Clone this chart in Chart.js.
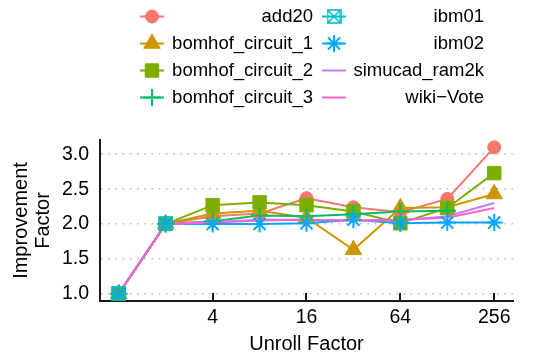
<!DOCTYPE html>
<html>
<head>
<meta charset="utf-8">
<script src="https://cdn.jsdelivr.net/npm/chart.js@4"></script>
<style>
  body { margin: 0; background: #fff; }
  canvas { display: block; }
</style>
</head>
<body>
<canvas id="chart" width="560" height="356"></canvas>
<script>
// unroll factor on x, improvement factor on y
const unrollFactors = [1, 2, 4, 8, 16, 32, 64, 128, 256];
const xTicks = [4, 16, 64, 256];
const yTicks = [1.0, 1.5, 2.0, 2.5, 3.0];

const add20 = [1.00, 2.00, 2.11, 2.15, 2.37, 2.24, 2.17, 2.36, 3.10];
const bomhof1 = [1.00, 2.00, 2.15, 2.19, 2.09, 1.63, 2.23, 2.24, 2.43];
const bomhof2 = [1.00, 2.00, 2.27, 2.31, 2.27, 2.18, 2.01, 2.23, 2.73];
const bomhof3 = [1.00, 2.00, 2.04, 2.12, 2.11, 2.14, 2.18, 2.19, null];
const ibm01 = [1.00, 2.00, null, null, null, null, null, null, null];
const ibm02 = [1.00, 2.00, 2.00, 2.00, 2.01, 2.06, 2.01, 2.02, 2.02];
const simucad = [1.00, 2.00, 2.03, 2.06, 2.06, 2.05, 2.05, 2.11, 2.30];
const wikiVote = [1.00, 2.00, 2.02, 2.05, 2.06, 2.05, 2.06, 2.09, 2.23];

const names = ["add20", "bomhof_circuit_1", "bomhof_circuit_2", "bomhof_circuit_3",
  "ibm01", "ibm02", "simucad_ram2k", "wiki\u2212Vote"];
const values = [add20, bomhof1, bomhof2, bomhof3, ibm01, ibm02, simucad, wikiVote];
const colors = ["#F8766D", "#CD9600", "#7CAE00", "#00BE67", "#00BFC4", "#00A9FF", "#C77CFF", "#FF61CC"];

// boxed x marker (ggplot shape 7)
function boxX(color) {
  const c = document.createElement("canvas");
  c.width = 15; c.height = 15;
  const g = c.getContext("2d");
  g.strokeStyle = color;
  g.lineWidth = 1.6;
  g.strokeRect(1, 1, 13, 13);
  g.beginPath();
  g.moveTo(1, 1); g.lineTo(14, 14);
  g.moveTo(14, 1); g.lineTo(1, 14);
  g.stroke();
  return c;
}

const markers = [
  { style: "circle", r: 6.5, w: 1 },
  { style: "triangle", r: 9.5, w: 1 },
  { style: "rect", r: 9.5, w: 1 },
  { style: "cross", r: 8.5, w: 2 },
  { style: boxX(colors[4]), r: 7, w: 1 },
  { style: "star", r: 8.5, w: 2 },
  null,
  null,
];

const FONT = "'Liberation Sans', Arial, sans-serif";

const datasets = [];
// lines first (underneath), then points on top, like ggplot layers
values.forEach((vals, i) => {
  datasets.push({
    label: names[i],
    data: unrollFactors.map((x, j) => ({ x: x, y: vals[j] })),
    borderColor: colors[i],
    backgroundColor: colors[i],
    borderWidth: 2,
    pointRadius: 0,
    tension: 0,
    order: 100 + (7 - i),
  });
});
values.forEach((vals, i) => {
  const m = markers[i];
  if (!m) return;
  datasets.push({
    label: names[i] + " pts",
    data: unrollFactors.map((x, j) => ({ x: x, y: vals[j] })),
    showLine: false,
    borderColor: colors[i],
    backgroundColor: colors[i],
    pointStyle: m.style,
    pointRadius: m.r,
    pointBorderWidth: m.w,
    order: 7 - i,
  });
});

// ticks that point into the panel
const innerTicks = {
  id: "innerTicks",
  afterDraw(chart) {
    const { ctx, scales: { x }, chartArea } = chart;
    ctx.save();
    ctx.strokeStyle = "#1a1a1a";
    ctx.lineWidth = 2;
    x.ticks.forEach((t) => {
      const px = Math.round(x.getPixelForValue(t.value));
      ctx.beginPath();
      ctx.moveTo(px, chartArea.bottom);
      ctx.lineTo(px, chartArea.bottom - 8);
      ctx.stroke();
    });
    ctx.restore();
  },
};

// two column legend, filled top to bottom, text right aligned
const sideLegend = {
  id: "sideLegend",
  afterDraw(chart) {
    const ctx = chart.ctx;
    const rowY = [16.5, 43.5, 70.5, 97.5];
    const cols = [
      { lineX: 140, textR: 313 },
      { lineX: 322, textR: 484 },
    ];
    ctx.save();
    ctx.font = "18.5px " + FONT;
    ctx.textAlign = "right";
    ctx.textBaseline = "middle";
    names.forEach((name, i) => {
      const col = cols[Math.floor(i / 4)];
      const y = rowY[i % 4];
      ctx.strokeStyle = colors[i];
      ctx.lineWidth = 2;
      ctx.beginPath();
      ctx.moveTo(col.lineX, y);
      ctx.lineTo(col.lineX + 24, y);
      ctx.stroke();
      const m = markers[i];
      if (m) {
        ctx.fillStyle = colors[i];
        ctx.strokeStyle = colors[i];
        ctx.lineWidth = m.w;
        Chart.helpers.drawPoint(ctx, { pointStyle: m.style, radius: m.r, rotation: 0, borderWidth: m.w }, col.lineX + 12, y);
      }
      ctx.fillStyle = "#000";
      ctx.fillText(name, col.textR, y);
    });
    ctx.restore();
  },
};

new Chart(document.getElementById("chart"), {
  type: "line",
  data: { datasets: datasets },
  options: {
    responsive: false,
    animation: false,
    layout: { padding: { top: 140, right: 47, left: 0, bottom: 0 }, autoPadding: false },
    plugins: { legend: { display: false }, tooltip: { enabled: false } },
    scales: {
      x: {
        type: "logarithmic",
        min: Math.pow(2, -0.4),
        max: Math.pow(2, 8.4),
        afterBuildTicks(scale) { scale.ticks = xTicks.map((v) => ({ value: v })); },
        afterFit(scale) { scale.height = 55; },
        grid: { display: false, drawTicks: false },
        border: { display: true, color: "#1a1a1a", width: 2 },
        ticks: {
          color: "#000",
          font: { family: FONT, size: 19.5 },
          padding: 5,
          maxRotation: 0,
          autoSkip: false,
          callback: (v) => String(v),
        },
        title: {
          display: true,
          text: "Unroll Factor",
          color: "#000",
          font: { family: FONT, size: 20, lineHeight: 1.1 },
          padding: { top: 0, bottom: 1 },
        },
      },
      y: {
        min: 0.895,
        max: 3.205,
        afterBuildTicks(scale) { scale.ticks = yTicks.map((v) => ({ value: v })); },
        afterFit(scale) { scale.width = 100; },
        grid: { color: "#bdbdbd", lineWidth: 1.6, drawTicks: false },
        border: { display: true, color: "#1a1a1a", width: 2, dash: [1.6, 5.6] },
        ticks: {
          color: "#000",
          font: { family: FONT, size: 19.5 },
          padding: 11,
          callback: (v) => v.toFixed(1),
        },
        title: {
          display: true,
          text: ["Improvement", "Factor"],
          color: "#000",
          font: { family: FONT, size: 20, lineHeight: 1.1 },
          padding: { top: 10, bottom: 0 },
        },
      },
    },
  },
  plugins: [innerTicks, sideLegend],
});
</script>
</body>
</html>
